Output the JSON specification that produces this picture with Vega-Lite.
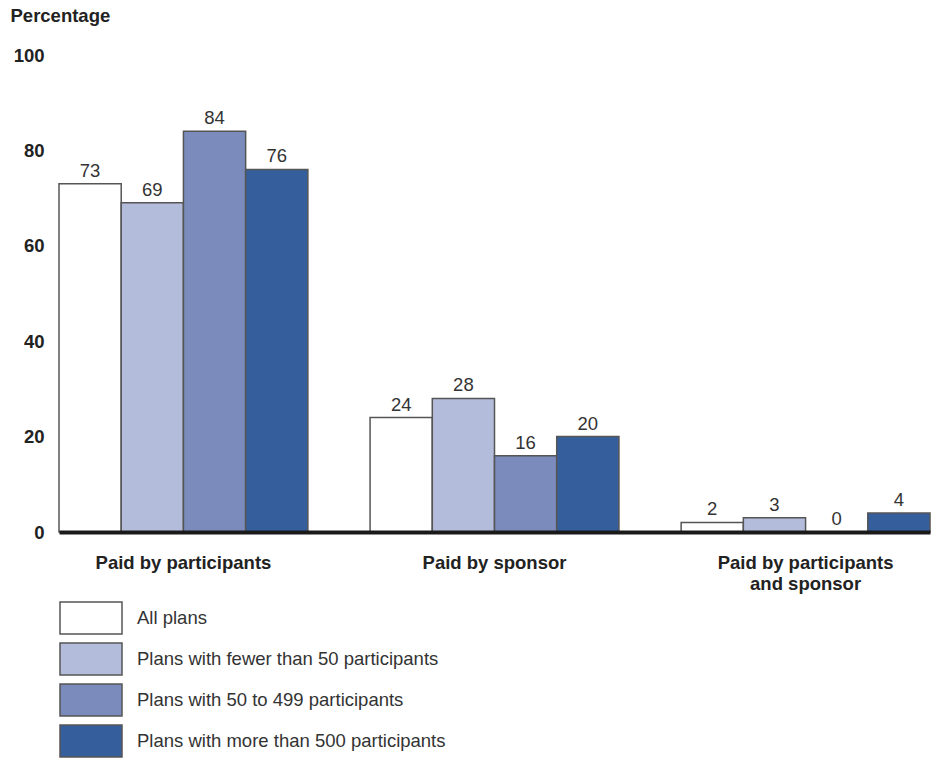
{
  "$schema": "https://vega.github.io/schema/vega-lite/v6.json",
  "width": 871,
  "height": 477,
  "autosize": {"type": "none"},
  "padding": {"left": 59, "top": 55, "right": 8, "bottom": 226},
  "background": "white",
  "config": {
    "view": {"stroke": null},
    "font": "Liberation Sans"
  },
  "data": {
    "values": [
      {"payer": "Paid by participants", "plan": "All plans", "pct": 73},
      {"payer": "Paid by participants", "plan": "Plans with fewer than 50 participants", "pct": 69},
      {"payer": "Paid by participants", "plan": "Plans with 50 to 499 participants", "pct": 84},
      {"payer": "Paid by participants", "plan": "Plans with more than 500 participants", "pct": 76},
      {"payer": "Paid by sponsor", "plan": "All plans", "pct": 24},
      {"payer": "Paid by sponsor", "plan": "Plans with fewer than 50 participants", "pct": 28},
      {"payer": "Paid by sponsor", "plan": "Plans with 50 to 499 participants", "pct": 16},
      {"payer": "Paid by sponsor", "plan": "Plans with more than 500 participants", "pct": 20},
      {"payer": "Paid by participants and sponsor", "plan": "All plans", "pct": 2},
      {"payer": "Paid by participants and sponsor", "plan": "Plans with fewer than 50 participants", "pct": 3},
      {"payer": "Paid by participants and sponsor", "plan": "Plans with 50 to 499 participants", "pct": 0},
      {"payer": "Paid by participants and sponsor", "plan": "Plans with more than 500 participants", "pct": 4}
    ]
  },
  "encoding": {
    "x": {
      "field": "payer",
      "type": "nominal",
      "sort": ["Paid by participants", "Paid by sponsor", "Paid by participants and sponsor"],
      "scale": {"paddingInner": 0.2, "paddingOuter": 0},
      "axis": {
        "title": null,
        "labelAngle": 0,
        "ticks": false,
        "zindex": 1,
        "domainColor": "#1a1a1a",
        "domainWidth": 4,
        "labelFont": "Liberation Sans",
        "labelFontSize": 18.5,
        "labelFontWeight": "bold",
        "labelColor": "#222222",
        "labelPadding": 21,
        "labelLineHeight": 21,
        "labelExpr": "datum.label == 'Paid by participants and sponsor' ? ['Paid by participants', 'and sponsor'] : datum.label"
      }
    },
    "xOffset": {
      "field": "plan",
      "type": "nominal",
      "sort": ["All plans", "Plans with fewer than 50 participants", "Plans with 50 to 499 participants", "Plans with more than 500 participants"],
      "scale": {"paddingInner": 0, "paddingOuter": 0}
    },
    "y": {
      "field": "pct",
      "type": "quantitative",
      "scale": {"domain": [0, 100], "nice": false},
      "axis": {
        "values": [0, 20, 40, 60, 80, 100],
        "grid": false,
        "ticks": false,
        "domain": false,
        "labelFont": "Liberation Sans",
        "labelFontSize": 18.5,
        "labelFontWeight": "bold",
        "labelColor": "#222222",
        "labelPadding": 15,
        "title": "Percentage",
        "titleAngle": 0,
        "titleAlign": "left",
        "titleBaseline": "middle",
        "titleX": -49,
        "titleY": -40,
        "titleFont": "Liberation Sans",
        "titleFontSize": 18.5,
        "titleFontWeight": "bold",
        "titleColor": "#222222"
      }
    }
  },
  "layer": [
    {
      "mark": {"type": "bar", "stroke": "#555555", "strokeWidth": 1.5},
      "encoding": {
        "fill": {
          "field": "plan",
          "type": "nominal",
          "sort": ["All plans", "Plans with fewer than 50 participants", "Plans with 50 to 499 participants", "Plans with more than 500 participants"],
          "scale": {"range": ["#ffffff", "#b4bcdb", "#7a8bbc", "#355f9c"]},
          "legend": {
            "title": null,
            "orient": "none",
            "legendX": 15,
            "legendY": 546,
            "padding": 0,
            "symbolType": "M-1.9375,-1H1.9375V1H-1.9375Z",
            "symbolSize": 1024,
            "symbolStrokeColor": "#555555",
            "symbolStrokeWidth": 1.5,
            "symbolOpacity": 1,
            "labelFont": "Liberation Sans",
            "labelFontSize": 18.5,
            "labelColor": "#333333",
            "labelOffset": 29,
            "labelLimit": 500,
            "rowPadding": 3
          }
        }
      }
    },
    {
      "mark": {"type": "text", "baseline": "alphabetic", "dy": -7, "fontSize": 18.5, "font": "Liberation Sans", "color": "#333333"},
      "encoding": {
        "text": {"field": "pct", "type": "quantitative"}
      }
    }
  ]
}
